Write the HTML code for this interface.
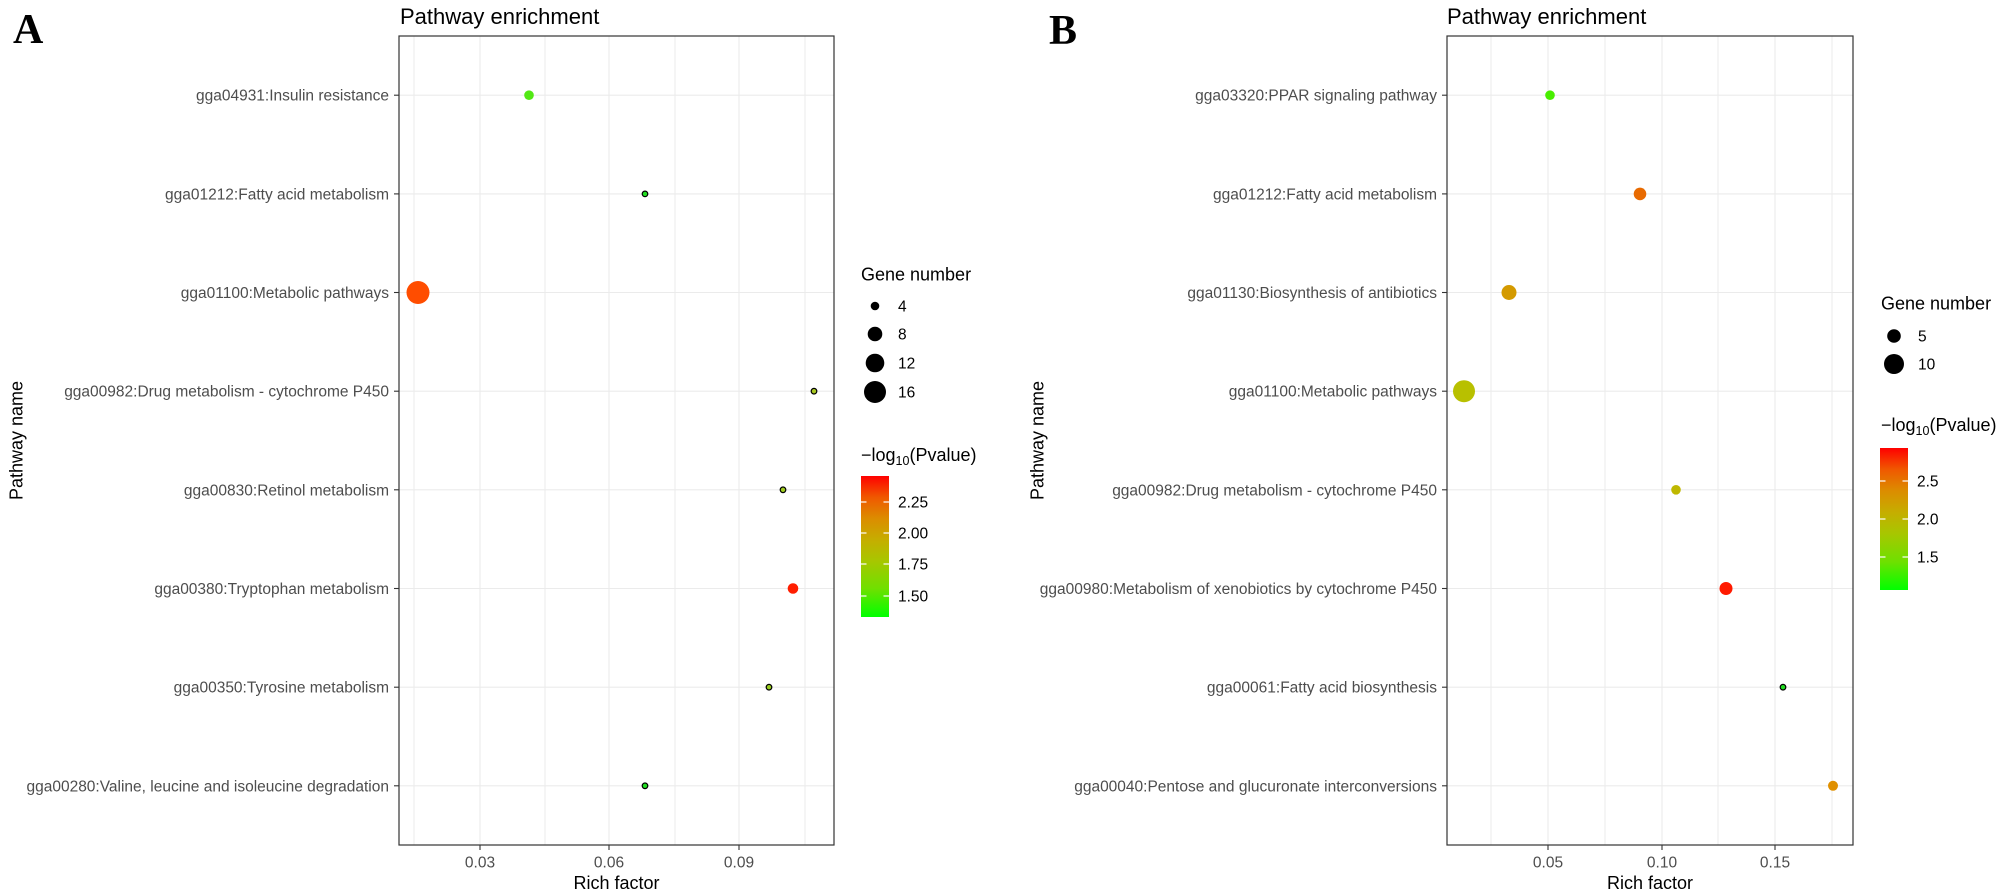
<!DOCTYPE html>
<html>
<head>
<meta charset="utf-8">
<style>
  html,body{margin:0;padding:0;background:#fff;}
  svg{display:block;}
  text{font-family:"Liberation Sans", Arial, sans-serif;}
  .yl{font-size:15.5px;fill:#4d4d4d;text-anchor:end;}
  .xl{font-size:15.5px;fill:#4d4d4d;text-anchor:middle;}
  .at{font-size:18px;fill:#000;}
  .tt{font-size:22px;fill:#000;}
  .lg{font-size:15.5px;fill:#000;}
  .pl{font-family:"Liberation Serif", "Times New Roman", serif;font-weight:bold;font-size:42px;fill:#000;}
  .g{stroke:#ebebeb;stroke-width:1.1;fill:none;}
  .gm{stroke:#ebebeb;stroke-width:1;fill:none;}
  .bd{stroke:#333;stroke-width:1.2;fill:none;}
  .tk{stroke:#333;stroke-width:1.1;}
</style>
</head>
<body>
<svg width="2007" height="896" viewBox="0 0 2007 896" xmlns="http://www.w3.org/2000/svg">
<defs>
  <linearGradient id="cg" x1="0" y1="1" x2="0" y2="0">
    <stop offset="0" stop-color="#00ff00"/>
    <stop offset="0.2" stop-color="#6fe000"/>
    <stop offset="0.4" stop-color="#a8c600"/>
    <stop offset="0.55" stop-color="#c6ad00"/>
    <stop offset="0.7" stop-color="#dc8c00"/>
    <stop offset="0.85" stop-color="#f05800"/>
    <stop offset="1" stop-color="#ff0000"/>
  </linearGradient>
</defs>
<rect width="2007" height="896" fill="#fff"/>

<!-- ================= PANEL A ================= -->
<text class="pl" x="13" y="43">A</text>
<text class="tt" x="400" y="24">Pathway enrichment</text>

<!-- grid -->
<g>
  <line class="gm" x1="414" y1="36" x2="414" y2="845"/>
  <line class="gm" x1="545" y1="36" x2="545" y2="845"/>
  <line class="gm" x1="675" y1="36" x2="675" y2="845"/>
  <line class="gm" x1="805" y1="36" x2="805" y2="845"/>
  <line class="g" x1="480" y1="36" x2="480" y2="845"/>
  <line class="g" x1="609" y1="36" x2="609" y2="845"/>
  <line class="g" x1="739" y1="36" x2="739" y2="845"/>
  <line class="g" x1="399" y1="95.2" x2="834" y2="95.2"/>
  <line class="g" x1="399" y1="193.9" x2="834" y2="193.9"/>
  <line class="g" x1="399" y1="292.5" x2="834" y2="292.5"/>
  <line class="g" x1="399" y1="391.2" x2="834" y2="391.2"/>
  <line class="g" x1="399" y1="489.8" x2="834" y2="489.8"/>
  <line class="g" x1="399" y1="588.5" x2="834" y2="588.5"/>
  <line class="g" x1="399" y1="687.2" x2="834" y2="687.2"/>
  <line class="g" x1="399" y1="785.8" x2="834" y2="785.8"/>
</g>

<!-- points A -->
<circle cx="529" cy="95.2" r="4.8" fill="#52e814"/>
<circle cx="645" cy="193.9" r="2.8" fill="#22dd22" stroke="#000" stroke-width="1.2"/>
<circle cx="418" cy="292.5" r="11.5" fill="#ff4d00"/>
<circle cx="814" cy="391.2" r="2.8" fill="#a8c820" stroke="#000" stroke-width="1.2"/>
<circle cx="783" cy="489.8" r="2.8" fill="#a0cc20" stroke="#000" stroke-width="1.2"/>
<circle cx="793" cy="588.5" r="5.3" fill="#ff1e00"/>
<circle cx="769" cy="687.2" r="2.8" fill="#98cc20" stroke="#000" stroke-width="1.2"/>
<circle cx="645" cy="785.8" r="2.8" fill="#22dd22" stroke="#000" stroke-width="1.2"/>

<rect class="bd" x="399" y="36" width="435" height="809"/>

<!-- y ticks A -->
<g class="tk">
  <line x1="394" y1="95.2" x2="399" y2="95.2"/>
  <line x1="394" y1="193.9" x2="399" y2="193.9"/>
  <line x1="394" y1="292.5" x2="399" y2="292.5"/>
  <line x1="394" y1="391.2" x2="399" y2="391.2"/>
  <line x1="394" y1="489.8" x2="399" y2="489.8"/>
  <line x1="394" y1="588.5" x2="399" y2="588.5"/>
  <line x1="394" y1="687.2" x2="399" y2="687.2"/>
  <line x1="394" y1="785.8" x2="399" y2="785.8"/>
  <line x1="480" y1="845" x2="480" y2="850"/>
  <line x1="609" y1="845" x2="609" y2="850"/>
  <line x1="739" y1="845" x2="739" y2="850"/>
</g>
<g class="yl">
  <text x="389" y="100.7">gga04931:Insulin resistance</text>
  <text x="389" y="199.4">gga01212:Fatty acid metabolism</text>
  <text x="389" y="298">gga01100:Metabolic pathways</text>
  <text x="389" y="396.7">gga00982:Drug metabolism - cytochrome P450</text>
  <text x="389" y="495.3">gga00830:Retinol metabolism</text>
  <text x="389" y="594">gga00380:Tryptophan metabolism</text>
  <text x="389" y="692.7">gga00350:Tyrosine metabolism</text>
  <text x="389" y="791.3">gga00280:Valine, leucine and isoleucine degradation</text>
</g>
<g class="xl">
  <text x="480" y="867.5">0.03</text>
  <text x="609" y="867.5">0.06</text>
  <text x="739" y="867.5">0.09</text>
</g>
<text class="at" x="616.5" y="889" text-anchor="middle">Rich factor</text>
<text class="at" transform="translate(22.5,440.5) rotate(-90)" text-anchor="middle">Pathway name</text>

<!-- legend A -->
<text class="at" x="861" y="280.5">Gene number</text>
<circle cx="875" cy="306" r="4.3" fill="#000"/>
<circle cx="875" cy="334" r="7.3" fill="#000"/>
<circle cx="875" cy="363" r="9.3" fill="#000"/>
<circle cx="875" cy="392" r="11" fill="#000"/>
<text class="lg" x="898" y="311.5">4</text>
<text class="lg" x="898" y="339.5">8</text>
<text class="lg" x="898" y="368.5">12</text>
<text class="lg" x="898" y="397.5">16</text>

<text class="at" x="861" y="461">−log<tspan font-size="12.5" dy="4">10</tspan><tspan dy="-4">(Pvalue)</tspan></text>
<rect x="861" y="476" width="28" height="141" fill="url(#cg)"/>
<g stroke="#fff" stroke-width="1.2">
  <line x1="861" y1="502" x2="866.5" y2="502"/><line x1="883.5" y1="502" x2="889" y2="502"/>
  <line x1="861" y1="533" x2="866.5" y2="533"/><line x1="883.5" y1="533" x2="889" y2="533"/>
  <line x1="861" y1="564" x2="866.5" y2="564"/><line x1="883.5" y1="564" x2="889" y2="564"/>
  <line x1="861" y1="596" x2="866.5" y2="596"/><line x1="883.5" y1="596" x2="889" y2="596"/>
</g>
<text class="lg" x="898" y="507.5">2.25</text>
<text class="lg" x="898" y="538.5">2.00</text>
<text class="lg" x="898" y="569.5">1.75</text>
<text class="lg" x="898" y="601.5">1.50</text>

<!-- ================= PANEL B ================= -->
<text class="pl" x="1049" y="44">B</text>
<text class="tt" x="1447" y="24">Pathway enrichment</text>

<g>
  <line class="gm" x1="1491" y1="36" x2="1491" y2="845"/>
  <line class="gm" x1="1605" y1="36" x2="1605" y2="845"/>
  <line class="gm" x1="1718" y1="36" x2="1718" y2="845"/>
  <line class="gm" x1="1832" y1="36" x2="1832" y2="845"/>
  <line class="g" x1="1548" y1="36" x2="1548" y2="845"/>
  <line class="g" x1="1662" y1="36" x2="1662" y2="845"/>
  <line class="g" x1="1775" y1="36" x2="1775" y2="845"/>
  <line class="g" x1="1447" y1="95.2" x2="1853" y2="95.2"/>
  <line class="g" x1="1447" y1="193.9" x2="1853" y2="193.9"/>
  <line class="g" x1="1447" y1="292.5" x2="1853" y2="292.5"/>
  <line class="g" x1="1447" y1="391.2" x2="1853" y2="391.2"/>
  <line class="g" x1="1447" y1="489.8" x2="1853" y2="489.8"/>
  <line class="g" x1="1447" y1="588.5" x2="1853" y2="588.5"/>
  <line class="g" x1="1447" y1="687.2" x2="1853" y2="687.2"/>
  <line class="g" x1="1447" y1="785.8" x2="1853" y2="785.8"/>
</g>

<!-- points B -->
<circle cx="1550" cy="95.2" r="4.8" fill="#48ee00"/>
<circle cx="1640" cy="193.9" r="6.3" fill="#e86a00"/>
<circle cx="1509" cy="292.5" r="7.5" fill="#d49a00"/>
<circle cx="1464" cy="391.2" r="11" fill="#b8c000"/>
<circle cx="1676" cy="489.8" r="4.8" fill="#bfb800"/>
<circle cx="1726" cy="588.5" r="6.5" fill="#ff1a00"/>
<circle cx="1783" cy="687.2" r="2.8" fill="#22dd22" stroke="#000" stroke-width="1.2"/>
<circle cx="1833" cy="785.8" r="5" fill="#e09000"/>

<rect class="bd" x="1447" y="36" width="406" height="809"/>

<g class="tk">
  <line x1="1442" y1="95.2" x2="1447" y2="95.2"/>
  <line x1="1442" y1="193.9" x2="1447" y2="193.9"/>
  <line x1="1442" y1="292.5" x2="1447" y2="292.5"/>
  <line x1="1442" y1="391.2" x2="1447" y2="391.2"/>
  <line x1="1442" y1="489.8" x2="1447" y2="489.8"/>
  <line x1="1442" y1="588.5" x2="1447" y2="588.5"/>
  <line x1="1442" y1="687.2" x2="1447" y2="687.2"/>
  <line x1="1442" y1="785.8" x2="1447" y2="785.8"/>
  <line x1="1548" y1="845" x2="1548" y2="850"/>
  <line x1="1662" y1="845" x2="1662" y2="850"/>
  <line x1="1775" y1="845" x2="1775" y2="850"/>
</g>
<g class="yl">
  <text x="1437" y="100.7">gga03320:PPAR signaling pathway</text>
  <text x="1437" y="199.4">gga01212:Fatty acid metabolism</text>
  <text x="1437" y="298">gga01130:Biosynthesis of antibiotics</text>
  <text x="1437" y="396.7">gga01100:Metabolic pathways</text>
  <text x="1437" y="495.3">gga00982:Drug metabolism - cytochrome P450</text>
  <text x="1437" y="594">gga00980:Metabolism of xenobiotics by cytochrome P450</text>
  <text x="1437" y="692.7">gga00061:Fatty acid biosynthesis</text>
  <text x="1437" y="791.3">gga00040:Pentose and glucuronate interconversions</text>
</g>
<g class="xl">
  <text x="1548" y="867.5">0.05</text>
  <text x="1662" y="867.5">0.10</text>
  <text x="1775" y="867.5">0.15</text>
</g>
<text class="at" x="1650" y="889" text-anchor="middle">Rich factor</text>
<text class="at" transform="translate(1043.5,440.5) rotate(-90)" text-anchor="middle">Pathway name</text>

<!-- legend B -->
<text class="at" x="1881" y="309.5">Gene number</text>
<circle cx="1894" cy="336" r="6.8" fill="#000"/>
<circle cx="1894" cy="364" r="10" fill="#000"/>
<text class="lg" x="1918" y="341.5">5</text>
<text class="lg" x="1918" y="369.5">10</text>

<text class="at" x="1881" y="431">−log<tspan font-size="12.5" dy="4">10</tspan><tspan dy="-4">(Pvalue)</tspan></text>
<rect x="1880" y="448" width="28" height="142" fill="url(#cg)"/>
<g stroke="#fff" stroke-width="1.2">
  <line x1="1880" y1="481" x2="1885.5" y2="481"/><line x1="1902.5" y1="481" x2="1908" y2="481"/>
  <line x1="1880" y1="519" x2="1885.5" y2="519"/><line x1="1902.5" y1="519" x2="1908" y2="519"/>
  <line x1="1880" y1="557" x2="1885.5" y2="557"/><line x1="1902.5" y1="557" x2="1908" y2="557"/>
</g>
<text class="lg" x="1917" y="486.5">2.5</text>
<text class="lg" x="1917" y="524.5">2.0</text>
<text class="lg" x="1917" y="562.5">1.5</text>
</svg>
</body>
</html>
